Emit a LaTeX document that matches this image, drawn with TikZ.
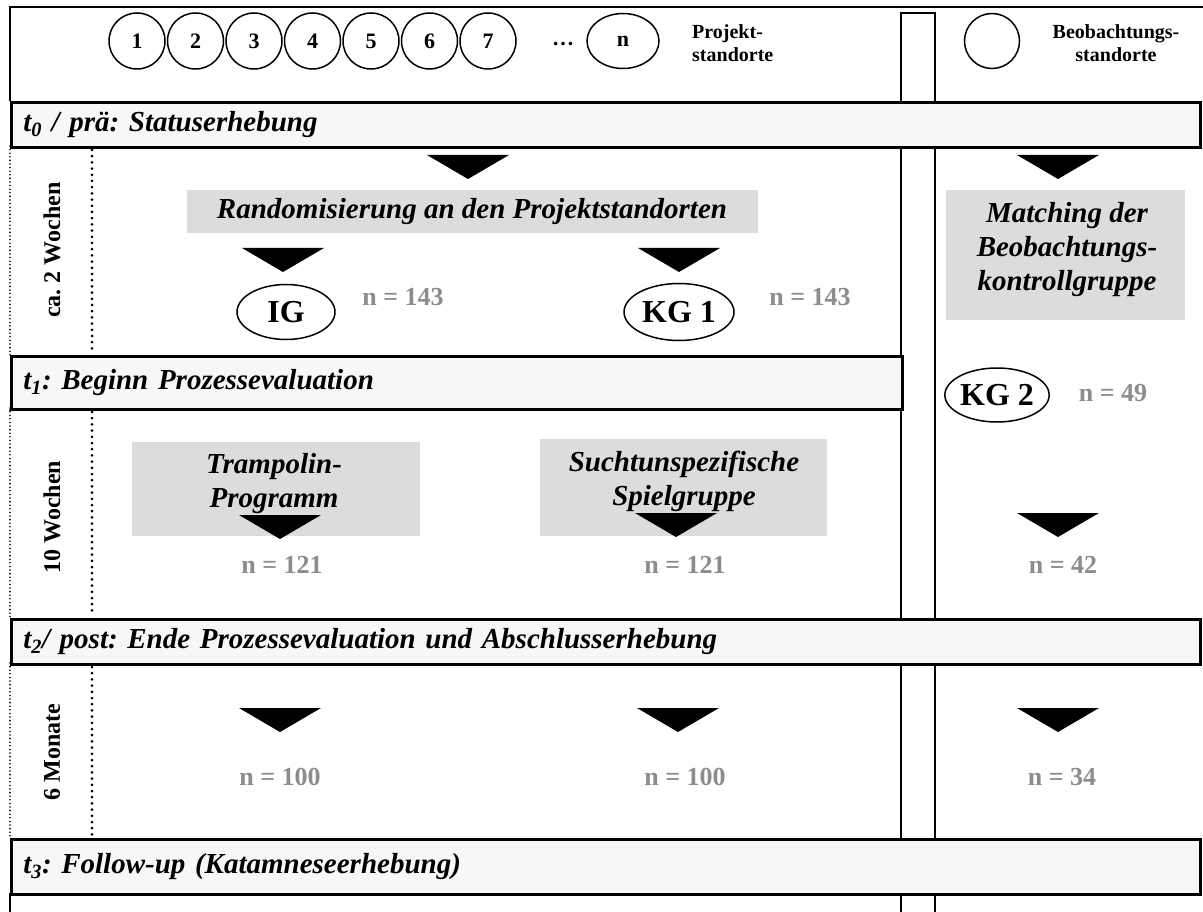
\documentclass[tikz,border=0pt]{standalone}
\usepackage{fontspec}
\setmainfont{Liberation Serif}
\usetikzlibrary{shapes.geometric}
\definecolor{barfill}{HTML}{F7F7F7}
\definecolor{boxfill}{HTML}{DCDCDC}
\definecolor{ntext}{HTML}{8C8C8C}
\frenchspacing
\begin{document}
\begin{tikzpicture}[x=1pt,y=-1pt,
  frameline/.style={line width=1.8pt},
  sepline/.style={line width=1.5pt},
  bigdots/.style={line width=3pt, line cap=round, dash pattern=on 0pt off 6.2pt},
  smalldots/.style={line width=1.8pt, line cap=round, dash pattern=on 0pt off 3.6pt},
  bar/.style={draw, line width=2.6pt, fill=barfill, anchor=north west, inner xsep=12pt, inner ysep=0pt, align=left,
    font=\fontsize{29}{33}\selectfont\bfseries\itshape},
  graybox/.style={fill=boxfill, inner sep=0pt},
  boxtext/.style={align=center, inner sep=0pt, font=\fontsize{29}{34}\selectfont\bfseries\itshape},
  ntxt/.style={text=ntext, inner sep=0pt, font=\fontsize{26}{30}\selectfont\bfseries},
  grp/.style={draw, ellipse, line width=1.5pt, inner sep=0pt, font=\fontsize{32}{36}\selectfont\bfseries},
  site/.style={draw, circle, line width=1.5pt, minimum size=56pt, inner sep=0pt, font=\fontsize{22}{26}\selectfont\bfseries},
  hdr/.style={inner sep=0pt, font=\fontsize{20}{23}\selectfont\bfseries},
  period/.style={rotate=90, inner sep=0pt, font=\fontsize{24}{28}\selectfont\bfseries},
  downtri/.pic={\fill (-41,0) -- (41,0) -- (0,24) -- cycle;}
]
\useasboundingbox (0,0) rectangle (1203,912);
% frame
\draw[frameline] (10,101) -- (10,7) -- (1203,7);
\draw[frameline] (10,893) -- (10,912);
\draw[smalldots] (10,146) -- (10,355);
\draw[smalldots] (10,408) -- (10,618);
\draw[smalldots] (10,410) -- (92,410);
\draw[smalldots] (10,663) -- (10,838);
% separator between project and observation sites
\draw[sepline] (901,915) -- (901,13) -- (935,13) -- (935,915);
% left column dotted divider
\draw[bigdots] (92,150) -- (92,353);
\draw[bigdots] (92,412) -- (92,616);
\draw[bigdots] (92,667) -- (92,836);
% header
\foreach \i in {1,...,7} {
  \node[site] (c\i) at ({137+58.5*(\i-1)},41) {\i};
}
\node[hdr, font=\fontsize{22}{26}\selectfont\bfseries] (dots) at (563,44) {\dots};
\node[site, ellipse, minimum width=72pt, minimum height=55pt] (cn) at (623,41) {n};
\node[hdr, anchor=west, align=left] (projlbl) at (692,43.5) {Projekt-\\standorte};
\node[site, minimum size=55pt] (cb) at (992,41) {};
\node[hdr, align=center] (beoblbl) at (1116,43.5) {Beobachtungs-\\standorte};
% period labels
\node[period] (p1) at (52,250) {ca. 2 Wochen};
\node[period] (p2) at (52,517) {10 Wochen};
\node[period] (p3) at (52,752) {6 Monate};
% section 1
\node[graybox, minimum width=571pt, minimum height=43pt] (randbox) at (472.5,211.5) {};
\node[boxtext] (randtxt) at (472,212) {Randomisierung an den Projektstandorten};
\node[graybox, minimum width=239pt, minimum height=130pt] (matchbox) at (1065.5,255) {};
\node[boxtext] (matchtxt) at (1067,250) {Matching der\\Beobachtungs-\\kontrollgruppe};
\pic at (468,155) {downtri};
\pic at (1058,155) {downtri};
\pic at (283,248) {downtri};
\pic at (679,248) {downtri};
\node[grp, minimum width=98pt, minimum height=55pt] (ig) at (286,312) {IG};
\node[grp, minimum width=110pt, minimum height=57pt] (kg1) at (679,312) {KG 1};
\node[grp, minimum width=102pt, minimum height=54pt] (kg2) at (997,395) {KG 2};
\node[ntxt] (n1) at (403,297) {n = 143};
\node[ntxt] (n2) at (810,297) {n = 143};
\node[ntxt] (n3) at (1113,393) {n = 49};
% section 2
\node[graybox, minimum width=288pt, minimum height=94pt] (trambox) at (276,489) {};
\node[boxtext] (tramtxt) at (274,484) {Trampolin-\\Programm};
\node[graybox, minimum width=287pt, minimum height=97pt] (spielbox) at (683.5,487.5) {};
\node[boxtext] (spieltxt) at (684,481) {Suchtunspezifische\\Spielgruppe};
\pic at (280,515) {downtri};
\pic at (676,513) {downtri};
\pic at (1058,513) {downtri};
\node[ntxt] (n4) at (282,565) {n = 121};
\node[ntxt] (n5) at (685,565) {n = 121};
\node[ntxt] (n6) at (1063,565) {n = 42};
% section 3
\pic at (280,708) {downtri};
\pic at (678,708) {downtri};
\pic at (1058,708) {downtri};
\node[ntxt] (n7) at (280,777) {n = 100};
\node[ntxt] (n8) at (685,777) {n = 100};
\node[ntxt] (n9) at (1062,777) {n = 34};
% time point bars
\node[bar, minimum width=1189pt, minimum height=45pt, text width=1165pt] (t0) at (10,101)
  {t\textsubscript{0} / prä: Statuserhebung};
\node[bar, minimum width=891pt, minimum height=53pt, text width=867pt] (t1) at (10,355)
  {t\textsubscript{1}: Beginn Prozessevaluation};
\node[bar, minimum width=1189pt, minimum height=45pt, text width=1165pt] (t2) at (10,618)
  {t\textsubscript{2}/ post: Ende Prozessevaluation und Abschlusserhebung};
\node[bar, minimum width=1189pt, minimum height=55pt, text width=1165pt] (t3) at (10,838)
  {t\textsubscript{3}: Follow-up (Katamneseerhebung)};
\end{tikzpicture}
\end{document}
